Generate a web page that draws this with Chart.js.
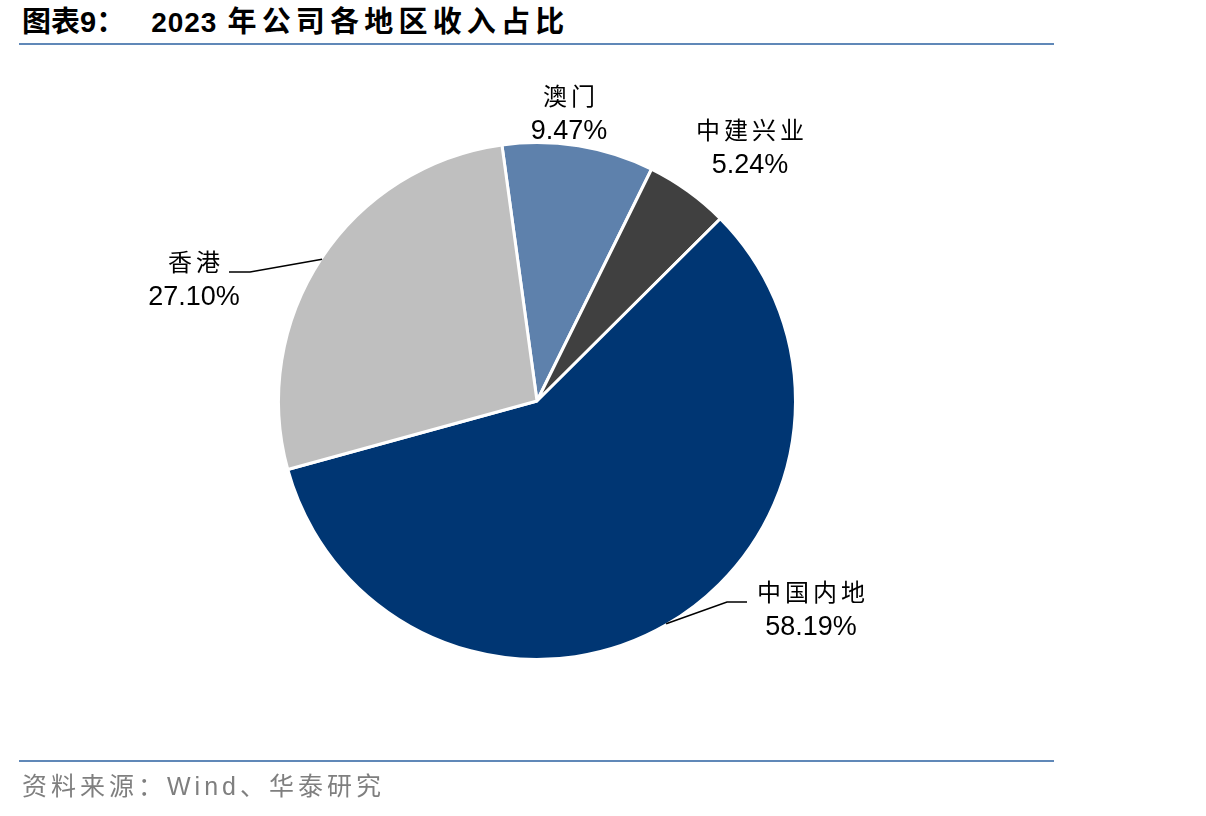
<!DOCTYPE html>
<html>
<head>
<meta charset="utf-8">
<script src="https://cdn.jsdelivr.net/npm/chart.js@4"></script>
<style>
  html, body { margin: 0; padding: 0; background: #fff; }
  #wrap { position: relative; width: 1206px; height: 816px; overflow: hidden; }
  #title { position: absolute; left: 22px; top: 4px; font-family: "Liberation Sans", "Noto Sans CJK SC", sans-serif; font-weight: bold; font-size: 29px; line-height: 36px; color: #000; white-space: nowrap; }
  #title .num { margin-left: 26px; letter-spacing: 1px; font-size: 28px; font-family: "Liberation Sans", Arial, sans-serif; }
  #title .cjk { margin-left: 10px; letter-spacing: 5.2px; }
  .rule { position: absolute; left: 19px; width: 1035px; height: 2px; background: #6088B8; }
  #source { position: absolute; left: 22px; top: 766px; font-family: "Liberation Sans", "Noto Sans CJK SC", sans-serif; font-size: 25px; color: #7F7F7F; white-space: nowrap; letter-spacing: 4px; }
  canvas { position: absolute; left: 0; top: 0; }
</style>
</head>
<body>
<div id="wrap">
  <div id="title"><span>图表9：</span><span class="num">2023</span><span class="cjk">年公司各地区收入占比</span></div>
  <div class="rule" style="top:43px"></div>
  <canvas id="c" width="1206" height="816"></canvas>
  <div class="rule" style="top:760px"></div>
  <div id="source">资料来源：Wind、华泰研究</div>
</div>
<script>
// ---- data ----
const categories = ["澳门", "中建兴业", "中国内地", "香港"];
const shares = [9.47, 5.24, 58.19, 27.10];
const valueLabels = ["9.47%", "5.24%", "58.19%", "27.10%"];
const sliceColors = ["#5E81AC", "#404040", "#003673", "#BFBFBF"];

// ---- label layout (text annotation placement, px) ----
const labelLayout = [
  { cx: 569, cy1: 96, cy2: 132, leader: null },
  { cx: 750, cy1: 130, cy2: 166, leader: null },
  { cx: 811, cy1: 592, cy2: 628, leader: { elbow: [727, 602], end: [747, 602] } },
  { cx: 194, cy1: 262, cy2: 298, leader: { elbow: [250, 272], end: [229, 272] } }
];

const labelPlugin = {
  id: 'sliceLabels',
  afterDraw(chart) {
    const ctx = chart.ctx;
    const meta = chart.getDatasetMeta(0);
    ctx.save();
    meta.data.forEach((arc, i) => {
      const L = labelLayout[i];
      if (L.leader) {
        const mid = (arc.startAngle + arc.endAngle) / 2;
        const r = arc.outerRadius - 1;
        const sx = arc.x + Math.cos(mid) * r;
        const sy = arc.y + Math.sin(mid) * r;
        ctx.beginPath();
        ctx.moveTo(sx, sy);
        ctx.lineTo(L.leader.elbow[0], L.leader.elbow[1]);
        ctx.lineTo(L.leader.end[0], L.leader.end[1]);
        ctx.strokeStyle = '#000';
        ctx.lineWidth = 1.5;
        ctx.stroke();
      }
      ctx.fillStyle = '#000';
      ctx.textAlign = 'center';
      ctx.textBaseline = 'middle';
      ctx.font = '24px "Noto Sans CJK SC", sans-serif';
      if ('letterSpacing' in ctx) ctx.letterSpacing = '4px';
      ctx.fillText(categories[i], L.cx + 2, L.cy1);
      if ('letterSpacing' in ctx) ctx.letterSpacing = '0px';
      ctx.font = '27px "Liberation Sans", Arial, sans-serif';
      ctx.fillText(valueLabels[i], L.cx, L.cy2);
    });
    ctx.restore();
  }
};

new Chart(document.getElementById('c'), {
  type: 'pie',
  data: {
    labels: categories,
    datasets: [{
      data: shares,
      backgroundColor: sliceColors,
      borderColor: '#ffffff',
      borderWidth: 3
    }]
  },
  options: {
    responsive: false,
    animation: false,
    rotation: -7.8,
    layout: { padding: { left: 277, right: 409, top: 141, bottom: 155 } },
    plugins: { legend: { display: false }, tooltip: { enabled: false } }
  },
  plugins: [labelPlugin]
});
</script>
</body>
</html>
